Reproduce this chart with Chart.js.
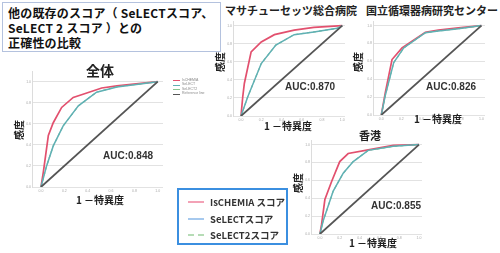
<!DOCTYPE html>
<html><head><meta charset="utf-8">
<script src="https://cdn.jsdelivr.net/npm/chart.js@4/dist/chart.umd.min.js"></script>
<style>
html,body{margin:0;padding:0;background:#fff;}
#root{position:relative;width:500px;height:253px;overflow:hidden;background:#fff;}
canvas{position:absolute;}
.t{position:absolute;white-space:nowrap;font-family:'Noto Sans CJK JP','Noto Sans',sans-serif;font-weight:bold;color:#222;transform:translate(-50%,-50%);line-height:1;}
.rot{transform:translate(-50%,-50%) rotate(-90deg);}
.auc{font-family:'Liberation Sans',Arial,sans-serif;color:#333;}
#titlebox{position:absolute;left:2px;top:2px;width:212px;height:46px;border:1px solid #b4c2de;font-family:'Noto Sans CJK JP',sans-serif;font-weight:bold;font-size:12px;letter-spacing:0.2px;line-height:15px;padding:2px 0 0 5px;box-sizing:content-box;color:#111;white-space:nowrap;}
#legbox{position:absolute;left:177px;top:188px;width:107px;height:53px;border:2px solid #3b8fe0;}
.lrow{position:absolute;left:10px;font-family:'Noto Sans CJK JP',sans-serif;font-weight:bold;font-size:9.5px;color:#333;white-space:nowrap;}
.mini{position:absolute;font-family:'Liberation Sans',sans-serif;font-size:3.5px;color:#888;white-space:nowrap;line-height:1;}
</style></head>
<body><div id="root"></div>
<script>
// ---- data ----
const tickValues = [0, 0.2, 0.4, 0.6, 0.8, 1.0];
const seriesNames = ['IsCHEMIA', 'SeLECT', 'SeLECT2', 'Reference line'];
const legendLabels = ['IsCHEMIA スコア', 'SeLECTスコア', 'SeLECT2スコア'];
const panelTitles = ['全体', 'マサチューセッツ総合病院', '国立循環器病研究センター', '香港'];
const aucValues = ['0.848', '0.870', '0.826', '0.855'];
const xAxisTitle = '1 －特異度';
const yAxisTitle = '感度';
const titleLines = ['他の既存のスコア（ SeLECTスコア、', 'SeLECT 2 スコア ）との', '正確性の比較'];

const refX = [0, 1];
const refY = [0, 1];

// 全体
const allIsX  = [0, 0.02, 0.063, 0.105, 0.177, 0.276, 0.36, 0.52, 0.65, 1];
const allIsY  = [0, 0.14, 0.49, 0.61, 0.755, 0.85, 0.88, 0.94, 0.96, 1];
const allSelX = [0, 0.048, 0.105, 0.19, 0.32, 0.476, 0.65, 1];
const allSelY = [0, 0.2, 0.39, 0.58, 0.77, 0.9, 0.95, 1];
const allSel2X = [0, 0.048, 0.105, 0.19, 0.32, 0.476, 0.65, 1];
const allSel2Y = [0, 0.2, 0.39, 0.58, 0.77, 0.9, 0.95, 1];

// マサチューセッツ総合病院
const mghIsX  = [0, 0.017, 0.033, 0.1, 0.2, 0.33, 0.525, 0.72, 1];
const mghIsY  = [0, 0.21, 0.36, 0.71, 0.82, 0.9, 0.95, 0.98, 1];
const mghSelX = [0, 0.066, 0.2, 0.344, 0.525, 0.72, 0.95, 1];
const mghSelY = [0, 0.21, 0.58, 0.785, 0.9, 0.93, 0.97, 1];
const mghSel2X = [0, 0.066, 0.2, 0.344, 0.525, 0.72, 0.95, 1];
const mghSel2Y = [0, 0.21, 0.58, 0.785, 0.9, 0.93, 0.97, 1];

// 国立循環器病研究センター
const ncvcIsX  = [0, 0.04, 0.107, 0.207, 0.307, 0.44, 0.57, 0.77, 1];
const ncvcIsY  = [0, 0.25, 0.62, 0.75, 0.825, 0.925, 0.95, 0.975, 1];
const ncvcSelX = [0, 0.04, 0.124, 0.224, 0.44, 0.57, 0.77, 1];
const ncvcSelY = [0, 0.22, 0.585, 0.75, 0.92, 0.94, 0.965, 1];
const ncvcSel2X = [0, 0.04, 0.124, 0.224, 0.44, 0.57, 0.77, 1];
const ncvcSel2Y = [0, 0.22, 0.585, 0.75, 0.92, 0.94, 0.965, 1];

// 香港
const hkIsX  = [0, 0.017, 0.05, 0.118, 0.2, 0.285, 0.487, 0.74, 1];
const hkIsY  = [0, 0.11, 0.385, 0.587, 0.81, 0.9, 0.94, 0.99, 1];
const hkSelX = [0, 0.034, 0.134, 0.235, 0.336, 0.487, 0.74, 1];
const hkSelY = [0, 0.15, 0.48, 0.68, 0.81, 0.935, 0.98, 1];
const hkSel2X = [0, 0.034, 0.134, 0.235, 0.336, 0.487, 0.74, 1];
const hkSel2Y = [0, 0.15, 0.48, 0.68, 0.81, 0.935, 0.98, 1];

// ---- styles ----
const COL_IS = '#e2506e', COL_SEL = '#5fb0b4', COL_SEL2 = '#86c48e', COL_REF = '#555555';
const root = document.getElementById('root');
const pts = (xs, ys) => xs.map((x, i) => ({x: x, y: ys[i]}));
const YW = 8, XH = 7, TP = 2, RP = 2;

function makeChart(box, xmin, xmax, ymax, series) {
  const c = document.createElement('canvas');
  const w = YW + (box.right - box.left) + RP;
  const h = TP + (box.bottom - box.top) + XH;
  c.width = Math.round(w); c.height = Math.round(h);
  c.style.left = (box.left - YW) + 'px';
  c.style.top = (box.top - TP) + 'px';
  c.style.width = Math.round(w) + 'px'; c.style.height = Math.round(h) + 'px';
  root.appendChild(c);
  const mk = (label, xs, ys, color, width, dash) => ({
    label: label, data: pts(xs, ys), borderColor: color, backgroundColor: color,
    borderWidth: width, borderDash: dash || [], pointRadius: 0, tension: 0, fill: false
  });
  new Chart(c, {
    type: 'line',
    data: { datasets: [
      mk(seriesNames[3], refX, refY, COL_REF, 1.8),
      mk(seriesNames[1], series[2], series[3], COL_SEL, 1.5),
      mk(seriesNames[2], series[4], series[5], COL_SEL2, 1.2, [3, 3]),
      mk(seriesNames[0], series[0], series[1], COL_IS, 1.7)
    ]},
    options: {
      responsive: false, animation: false, devicePixelRatio: 1,
      layout: { padding: { left: 0, top: TP, right: RP, bottom: 0 } },
      plugins: { legend: { display: false }, tooltip: { enabled: false } },
      scales: {
        x: { type: 'linear', min: xmin, max: xmax,
          afterBuildTicks: a => { a.ticks = tickValues.map(v => ({value: v})); },
          afterFit: s => { s.height = XH; },
          grid: { display: false, drawTicks: false }, border: { display: false },
          ticks: { font: { size: 3.5 }, color: '#aaa', padding: 2, maxRotation: 0,
                   callback: v => v.toFixed(1) } },
        y: { type: 'linear', min: 0, max: ymax,
          afterBuildTicks: a => { a.ticks = tickValues.map(v => ({value: v})); },
          afterFit: s => { s.width = YW; },
          grid: { color: '#e2e2e2', lineWidth: 1, drawTicks: false },
          border: { display: true, color: '#dcdcdc', width: 1 },
          ticks: { font: { size: 3.5 }, color: '#aaa', padding: 1,
                   callback: v => v.toFixed(1) } }
      }
    }
  });
}

function txt(s, x, y, size, cls) {
  const d = document.createElement('div');
  d.className = 't' + (cls ? ' ' + cls : '');
  d.textContent = s; d.style.left = x + 'px'; d.style.top = y + 'px';
  d.style.fontSize = size + 'px';
  root.appendChild(d);
}

// 全体
makeChart({left: 32, right: 163, top: 70.4, bottom: 187.5}, -0.077, 1.045, 1.1,
  [allIsX, allIsY, allSelX, allSelY, allSel2X, allSel2Y]);
// MGH
makeChart({left: 233, right: 345, top: 19.5, bottom: 115}, -0.079, 1.027, 1.05,
  [mghIsX, mghIsY, mghSelX, mghSelY, mghSel2X, mghSel2Y]);
// NCVC
makeChart({left: 373, right: 485, top: 19.8, bottom: 114.5}, -0.083, 1.036, 1.05,
  [ncvcIsX, ncvcIsY, ncvcSelX, ncvcSelY, ncvcSel2X, ncvcSel2Y]);
// HK
makeChart({left: 311, right: 422, top: 139, bottom: 234}, -0.09, 1.03, 1.05,
  [hkIsX, hkIsY, hkSelX, hkSelY, hkSel2X, hkSel2Y]);

// panel texts
txt(panelTitles[0], 100, 70, 14);
txt(panelTitles[1], 291, 10, 11);
txt(panelTitles[2], 432, 10, 11);
txt(panelTitles[3], 370, 135, 11);
txt(yAxisTitle, 19, 130, 10, 'rot');
txt(yAxisTitle, 220, 62, 10, 'rot');
txt(yAxisTitle, 358, 62, 10, 'rot');
txt(yAxisTitle, 298, 183, 10, 'rot');
txt(xAxisTitle, 100, 200, 10);
txt(xAxisTitle, 288, 126, 10);
txt(xAxisTitle, 438, 119, 10);
txt(xAxisTitle, 373, 243, 10);
txt('AUC:' + aucValues[0], 128, 156, 10, 'auc');
txt('AUC:' + aucValues[1], 310, 87, 10, 'auc');
txt('AUC:' + aucValues[2], 451, 87, 10, 'auc');
txt('AUC:' + aucValues[3], 396, 206, 10, 'auc');

// title box
const tb = document.createElement('div'); tb.id = 'titlebox';
tb.innerHTML = titleLines.join('<br>');
root.appendChild(tb);

// mini legend of the overall chart
const miniCols = [COL_IS, COL_SEL, COL_SEL2, COL_REF];
seriesNames.forEach((n, i) => {
  const y = 80 + i * 4.5;
  const ln = document.createElement('div');
  ln.style.cssText = 'position:absolute;left:173px;width:7px;height:1px;top:' + y + 'px;background:' + miniCols[i] + ';';
  root.appendChild(ln);
  const t = document.createElement('div'); t.className = 'mini';
  t.textContent = n; t.style.left = '182px'; t.style.top = (y - 1.5) + 'px';
  root.appendChild(t);
});

// bottom legend box
const lb = document.createElement('div'); lb.id = 'legbox'; root.appendChild(lb);
const legCols = ['#f3a2b6', '#a6c9ee', '#b6dcb6'];
legendLabels.forEach((n, i) => {
  const cy = 12 + i * 16.5;
  const ln = document.createElement('div');
  ln.style.cssText = 'position:absolute;left:9px;width:16px;top:' + (cy - 1) + 'px;height:0;border-top:2px ' + (i === 2 ? 'dashed' : 'solid') + ' ' + legCols[i] + ';';
  lb.appendChild(ln);
  const t = document.createElement('div'); t.className = 'lrow';
  t.textContent = n; t.style.left = '31px'; t.style.top = (cy - 7) + 'px';
  lb.appendChild(t);
});
</script>
</body></html>
